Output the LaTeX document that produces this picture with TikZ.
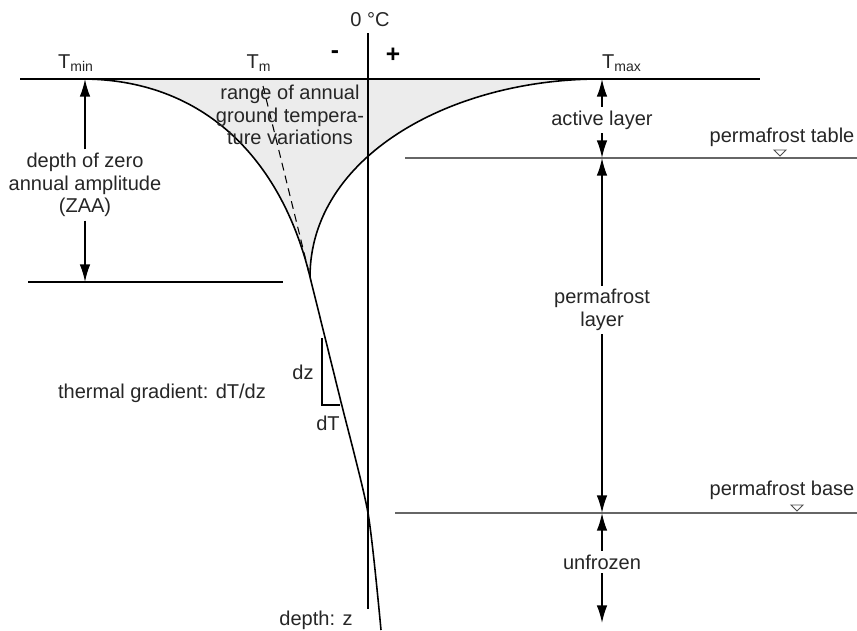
\documentclass[tikz,border=0pt]{standalone}
\usepackage{fontspec}
\setmainfont{Liberation Sans}
\usetikzlibrary{arrows.meta}

\begin{document}
\begin{tikzpicture}[x=0.02cm, y=-0.02cm,
    every node/.style={font=\fontsize{11.4}{12.8}\selectfont, text=black!85},
    txt/.style={align=center, inner sep=1pt},
    gap/.style={align=center, fill=white, inner sep=2pt},
    sign/.style={font=\bfseries\fontsize{14}{14}\selectfont, text=black},
    dim/.style={-{Latex[length=10pt,width=6pt]}, line width=0.9pt},
    level/.style={black!60, line width=0.8pt},
    curve/.style={line width=0.9pt},
    marker/.style={black!70, line width=0.5pt}]
    \useasboundingbox (0,0) rectangle (857,630);

    % Envelope of annual temperatures (shaded)
    \coordinate (meet) at (310,277);
    \coordinate (cross) at (368,513);
    \fill[gray!15] (82,79) .. controls (202,79) and (281,157) .. (meet)
        .. controls (310,157) and (450,79) .. (600,79) -- cycle;
    \draw[curve] (82,79) .. controls (202,79) and (281,157) .. (meet);
    \draw[curve] (meet) .. controls (310,157) and (450,79) .. (600,79);

    % Mean temperature and geothermal gradient
    \draw[dashed, dash pattern=on 4.5pt off 3pt, line width=0.6pt] (263,86) -- (meet);
    \draw[curve] plot[smooth, tension=0.4] coordinates {(310,277) (340,398) (368,513) (381,630)};
    \draw[line width=0.8pt] (322,338) -- (322,405) -- (340,405);

    % Ground surface, 0 degree axis and levels
    \draw[line width=1.1pt] (20,79) -- (760,79);
    \draw[line width=1.1pt] (368,33) -- (368,609);
    \draw[line width=1pt] (28,282) -- (283,282);
    \draw[level] (405,158) -- (857,158);
    \draw[level] (395,513) -- (857,513);
    \draw[marker] (774,150) -- (786,150) -- (780,156) -- cycle;
    \draw[marker] (791,505) -- (803,505) -- (797,511) -- cycle;

    % Labels on top
    \node[txt] (zero) at (370,20) {0 °C};
    \node[sign] (minus) at (335,55) {-};
    \node[sign] (plus) at (393,55) {+};
    \node[txt] (tmin) at (76,63) {T\textsubscript{min}};
    \node[txt] (tm) at (259,63) {T\textsubscript{m}};
    \node[txt] (tmax) at (622,63) {T\textsubscript{max}};
    \node[txt] (range) at (290,115) {range of annual\\ground tempera-\\ture variations};

    % Gradient labels
    \node[txt] (grad) at (162,393) {thermal gradient: dT/dz};
    \node[txt] (dz) at (303,372) {dz};
    \node[txt] (dt) at (328,423) {dT};
    \node[txt] (depth) at (316,620) {depth: z};
    \node[txt] (table) at (782,137) {permafrost table};
    \node[txt] (base) at (782,490) {permafrost base};

    % Depth of zero annual amplitude
    \coordinate (zaatop) at (85,79);
    \coordinate (zaabot) at (85,282);
    \node[gap] (zaa) at (85,185) {depth of zero\\annual amplitude\\(ZAA)};
    \draw[dim] (zaa) -- (zaatop);
    \draw[dim] (zaa) -- (zaabot);

    % Layers on the right
    \coordinate (surf) at (602,79);
    \coordinate (pftop) at (602,158);
    \coordinate (pfbot) at (602,513);
    \coordinate (deep) at (602,623);
    \node[gap] (active) at (602,120) {active layer};
    \draw[dim] (active) -- (surf);
    \draw[dim] (active) -- (pftop);
    \node[gap] (pfl) at (602,310) {permafrost\\layer};
    \draw[dim] (pfl) -- (pftop);
    \draw[dim] (pfl) -- (pfbot);
    \node[gap] (unfrozen) at (602,562) {unfrozen};
    \draw[dim] (unfrozen) -- (pfbot);
    \draw[dim] (unfrozen) -- (deep);
\end{tikzpicture}
\end{document}
